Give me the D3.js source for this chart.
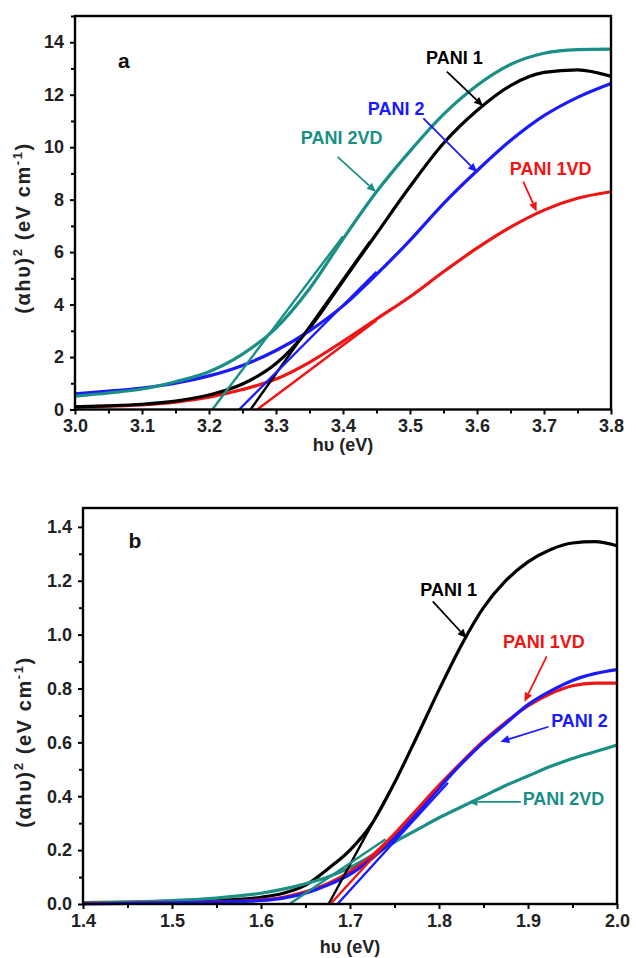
<!DOCTYPE html>
<html><head><meta charset="utf-8">
<script src="https://cdn.jsdelivr.net/npm/d3@7"></script>
<style>
html,body{margin:0;padding:0;background:#fff;}
text{font-family:"Liberation Sans",Arial,sans-serif;font-weight:bold;}
</style></head>
<body><svg id="c" width="636" height="958"></svg>
<script>
// ---------- DATA ----------
// Panel a
const aEnergy   = [3.00,3.05,3.10,3.15,3.20,3.25,3.30,3.35,3.40,3.45,3.50,3.55,3.60,3.65,3.70,3.75,3.80];
const aPANI1    = [0.10,0.14,0.20,0.32,0.55,0.97,1.75,3.10,4.90,6.70,8.50,10.15,11.40,12.35,12.85,12.95,12.70];
const aPANI2    = [0.60,0.70,0.82,1.00,1.28,1.68,2.25,3.00,3.95,5.15,6.45,7.85,9.10,10.25,11.20,11.90,12.43];
const aPANI1VD  = [0.10,0.13,0.18,0.28,0.47,0.76,1.16,1.80,2.60,3.45,4.30,5.25,6.15,6.95,7.60,8.05,8.30];
const aPANI2VD  = [0.51,0.63,0.78,1.06,1.44,2.11,3.10,4.60,6.50,8.30,9.85,11.25,12.35,13.15,13.58,13.72,13.74];
// tangent lines [x0,y0,x1,y1]
const aTangents = {PANI1:[3.262,0,3.44,6.4], PANI2:[3.245,0,3.45,5.25], PANI1VD:[3.272,0,3.45,3.4], PANI2VD:[3.205,0,3.40,6.6]};
const aXTicks = [3.0,3.1,3.2,3.3,3.4,3.5,3.6,3.7,3.8];
const aYTicks = [0,2,4,6,8,10,12,14];

// Panel b
const bEnergy   = [1.40,1.45,1.50,1.55,1.60,1.625,1.65,1.675,1.70,1.725,1.75,1.775,1.80,1.825,1.85,1.875,1.90,1.925,1.95,1.975,2.00];
const bPANI1    = [0.003,0.005,0.008,0.013,0.025,0.040,0.070,0.130,0.200,0.300,0.450,0.620,0.795,0.960,1.100,1.200,1.270,1.315,1.340,1.345,1.330];
const bPANI2    = [0.000,0.002,0.004,0.007,0.013,0.022,0.040,0.070,0.110,0.170,0.245,0.335,0.430,0.520,0.600,0.670,0.740,0.790,0.830,0.855,0.870];
const bPANI1VD  = [0.002,0.003,0.005,0.008,0.015,0.025,0.045,0.075,0.120,0.180,0.260,0.350,0.440,0.525,0.605,0.675,0.735,0.780,0.810,0.820,0.820];
const bPANI2VD  = [0.005,0.008,0.013,0.022,0.040,0.055,0.075,0.100,0.135,0.180,0.230,0.275,0.320,0.360,0.400,0.440,0.475,0.510,0.540,0.565,0.590];
const bTangents = {PANI1:[1.676,0,1.745,0.42], PANI2:[1.686,0,1.81,0.45], PANI1VD:[1.678,0,1.80,0.44], PANI2VD:[1.632,0,1.74,0.24]};
const bXTicks = [1.4,1.5,1.6,1.7,1.8,1.9,2.0];
const bYTicks = [0.0,0.2,0.4,0.6,0.8,1.0,1.2,1.4];

const colors = {PANI1:"#000000", PANI2:"#1a1aff", PANI1VD:"#f01414", PANI2VD:"#1a8f86"};

// annotations: label text, text pos (data), arrow from -> to (data)
const aNotes = [
  {s:"PANI1",   t:"PANI 1",   tx:3.524, ty:13.17, ax0:3.555, ay0:12.88, ax1:3.609, ay1:11.57},
  {s:"PANI2",   t:"PANI 2",   tx:3.437, ty:11.23, ax0:3.520, ay0:11.10, ax1:3.600, ay1:9.05},
  {s:"PANI2VD", t:"PANI 2VD", tx:3.337, ty:10.12, ax0:3.392, ay0:9.63,  ax1:3.449, ay1:8.30},
  {s:"PANI1VD", t:"PANI 1VD", tx:3.649, ty:8.94,  ax0:3.669, ay0:8.69,  ax1:3.689, ay1:7.55}
];
const bNotes = [
  {s:"PANI1",   t:"PANI 1",   tx:1.779, ty:1.144, ax0:1.793, ay0:1.123, ax1:1.831, ay1:0.987},
  {s:"PANI1VD", t:"PANI 1VD", tx:1.872, ty:0.950, ax0:1.921, ay0:0.919, ax1:1.896, ay1:0.751},
  {s:"PANI2",   t:"PANI 2",   tx:1.926, ty:0.658, ax0:1.923, ay0:0.658, ax1:1.869, ay1:0.602},
  {s:"PANI2VD", t:"PANI 2VD", tx:1.894, ty:0.367, ax0:1.892, ay0:0.379, ax1:1.833, ay1:0.379}
];

// ---------- DRAW ----------
const svg = d3.select("#c");

function panel(o){
  const x = d3.scaleLinear().domain(o.xDom).range([o.left,o.right]);
  const y = d3.scaleLinear().domain(o.yDom).range([o.bottom,o.top]);
  const g = svg.append("g");

  const line = d3.line().x(d=>x(d[0])).y(d=>y(d[1])).curve(d3.curveMonotoneX);
  o.order.forEach(s=>{
    const pts = o.energy.map((e,i)=>[e,o.series[s][i]]);
    g.append("path").attr("d",line(pts)).attr("fill","none")
      .attr("stroke",colors[s]).attr("stroke-width",3.2).attr("stroke-linejoin","round");
  });
  o.order.forEach(s=>{
    const t=o.tangents[s];
    g.append("line").attr("x1",x(t[0])).attr("y1",y(t[1])).attr("x2",x(t[2])).attr("y2",y(t[3]))
      .attr("stroke",colors[s]).attr("stroke-width",2.4);
  });

  g.append("rect").attr("x",o.left).attr("y",o.top).attr("width",o.right-o.left).attr("height",o.bottom-o.top)
    .attr("fill","none").attr("stroke","#000").attr("stroke-width",2.4);

  const xa = d3.axisBottom(x).tickValues(o.xTicks).tickSize(5).tickPadding(5).tickFormat(d3.format(".1f"));
  const xm = d3.axisBottom(x).tickValues(o.xMinor).tickSize(4).tickFormat("");
  const ya = d3.axisLeft(y).tickValues(o.yTicks).tickSize(5).tickPadding(6).tickFormat(o.yFmt);
  const ym = d3.axisLeft(y).tickValues(o.yMinor).tickSize(4).tickFormat("");
  [[xa,"b"],[xm,"b"],[ya,"l"],[ym,"l"]].forEach(([ax,side])=>{
    const ag = g.append("g").attr("transform", side==="b" ? `translate(0,${o.bottom})` : `translate(${o.left},0)`).call(ax);
    ag.select(".domain").remove();
    ag.selectAll("line").attr("stroke","#000").attr("stroke-width",2);
    ag.selectAll("text").attr("fill","#222").style("font-size","18px").style("font-weight","bold")
      .style("font-family",'"Liberation Sans",Arial,sans-serif');
  });

  g.append("text").attr("x",x(o.letterPos[0])).attr("y",y(o.letterPos[1])).text(o.letter)
    .style("font-size","21px").attr("fill","#111");

  o.notes.forEach(n=>{
    g.append("text").attr("x",x(n.tx)).attr("y",y(n.ty)).text(n.t)
      .attr("fill",colors[n.s]).style("font-size","18px");
    const X0=x(n.ax0),Y0=y(n.ay0),X1=x(n.ax1),Y1=y(n.ay1);
    const ang=Math.atan2(Y1-Y0,X1-X0), L=9, Wd=4;
    const bx=X1-L*Math.cos(ang), by=Y1-L*Math.sin(ang);
    g.append("line").attr("x1",X0).attr("y1",Y0).attr("x2",bx).attr("y2",by)
      .attr("stroke",colors[n.s]).attr("stroke-width",1.8);
    const p=[[X1,Y1],[bx+Wd*Math.sin(ang),by-Wd*Math.cos(ang)],[bx-Wd*Math.sin(ang),by+Wd*Math.cos(ang)]];
    g.append("path").attr("d","M"+p.map(q=>q.join(",")).join("L")+"Z").attr("fill",colors[n.s]);
  });

  g.append("text").attr("x",(o.left+o.right)/2).attr("y",o.xTitleY).attr("text-anchor","middle")
    .style("font-size","18px").attr("fill","#222").text("hυ (eV)");
  const yt = g.append("text").attr("transform",`translate(${o.yTitleX},${o.yTitleY}) rotate(-90)`)
    .attr("text-anchor","middle").style("font-size","20px").style("letter-spacing","1.6px").attr("fill","#222");
  yt.append("tspan").text("(αhυ)");
  yt.append("tspan").attr("dy",-8).style("font-size","13px").text("2");
  yt.append("tspan").attr("dy",8).text(" (eV cm");
  yt.append("tspan").attr("dy",-8).style("font-size","13px").text("-1");
  yt.append("tspan").attr("dy",8).text(")");
}

const range=(a,b,s)=>d3.range(Math.round((b-a)/s)+1).map(i=>+(a+i*s).toFixed(3));

panel({
  xDom:[3.0,3.8], yDom:[0,15], left:75, right:611, top:16, bottom:409.5,
  energy:aEnergy, series:{PANI1:aPANI1,PANI2:aPANI2,PANI1VD:aPANI1VD,PANI2VD:aPANI2VD},
  order:["PANI1VD","PANI1","PANI2","PANI2VD"], tangents:aTangents,
  xTicks:aXTicks, xMinor:range(3.05,3.75,0.1), yTicks:aYTicks, yMinor:range(1,15,2), yFmt:d3.format("d"),
  letter:"a", letterPos:[3.064,13.0], notes:aNotes, xTitleY:451, yTitleX:30, yTitleY:228
});
panel({
  xDom:[1.4,2.0], yDom:[0,1.47], left:83, right:617, top:508, bottom:904,
  energy:bEnergy, series:{PANI1:bPANI1,PANI2:bPANI2,PANI1VD:bPANI1VD,PANI2VD:bPANI2VD},
  order:["PANI1","PANI2VD","PANI1VD","PANI2"], tangents:bTangents,
  xTicks:bXTicks, xMinor:range(1.45,1.95,0.1), yTicks:bYTicks, yMinor:range(0.1,1.4,0.2), yFmt:d3.format(".1f"),
  letter:"b", letterPos:[1.451,1.322], notes:bNotes, xTitleY:953, yTitleX:31, yTitleY:742
});
</script></body></html>
